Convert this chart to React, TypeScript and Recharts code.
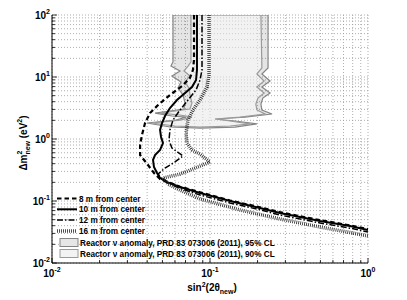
import React from "react";
import { ScatterChart, Scatter, XAxis, YAxis, CartesianGrid, Legend } from "recharts";

const FONT = "'Liberation Sans', Arial, Helvetica, sans-serif";

// log axes: decades + minor steps
const xDecades = [0.01, 0.1, 1];
const yDecades = [0.01, 0.1, 1, 10, 100];
const minorSteps = [1, 2, 3, 4, 5, 6, 7, 8, 9];

// sensitivity contours, [sin^2(2theta_new), dm^2_new (eV^2)]
const curve8m = [
  [0.0792, 100], [0.0792, 18.8], [0.078, 13.0], [0.0747, 9.64], [0.0665, 7.16], [0.0558, 5.13],
  [0.0469, 3.53], [0.0417, 2.62], [0.0388, 1.81], [0.0371, 1.16], [0.0361, 0.8], [0.0361, 0.552],
  [0.0405, 0.381], [0.0442, 0.283], [0.0483, 0.226], [0.0535, 0.205], [0.0646, 0.17], [0.0865, 0.138],
  [0.134, 0.102], [0.207, 0.079], [0.277, 0.066], [0.497, 0.049], [0.769, 0.0405], [1.0, 0.0353],
];
const curve10m = [
  [0.0827, 100], [0.0827, 13.0], [0.0816, 8.95], [0.0769, 6.9], [0.0695, 5.52], [0.0618, 4.26],
  [0.0558, 3.16], [0.0519, 2.35], [0.0497, 1.81], [0.0483, 1.4], [0.049, 1.08], [0.0504, 0.861],
  [0.0483, 0.665], [0.0449, 0.552], [0.0436, 0.459], [0.0442, 0.353], [0.0462, 0.283], [0.0483, 0.235],
  [0.0535, 0.202], [0.0646, 0.168], [0.0865, 0.135], [0.134, 0.1], [0.207, 0.0771], [0.277, 0.064],
  [0.497, 0.0476], [0.769, 0.0395], [1.0, 0.034],
];
const curve12m = [
  [0.089, 100], [0.089, 13.0], [0.0865, 8.95], [0.0816, 6.17], [0.0726, 4.26], [0.0646, 2.94],
  [0.0583, 2.02], [0.0558, 1.4], [0.055, 0.964], [0.0574, 0.716], [0.0675, 0.532], [0.06, 0.426],
  [0.0519, 0.34], [0.0469, 0.272], [0.0497, 0.226], [0.0542, 0.195], [0.0646, 0.16], [0.0865, 0.125],
  [0.134, 0.0929], [0.207, 0.0725], [0.277, 0.0594], [0.497, 0.0442], [0.769, 0.0365], [1.0, 0.0316],
];
const curve16m = [
  [0.0986, 100], [0.0986, 10.8], [0.0957, 6.9], [0.0865, 4.26], [0.078, 2.94], [0.0726, 2.02],
  [0.0705, 1.25], [0.0715, 0.861], [0.0769, 0.665], [0.0865, 0.573], [0.1, 0.426], [0.0804, 0.34],
  [0.0646, 0.272], [0.0504, 0.235], [0.0542, 0.188], [0.0646, 0.15], [0.0865, 0.108], [0.155, 0.0716],
  [0.277, 0.0513], [0.497, 0.0381], [0.769, 0.031], [1.0, 0.0273],
];

// reactor anomaly allowed regions (closed outlines)
const reactor95 = [
  [0.0583, 100], [0.0583, 17.5], [0.0566, 15.0], [0.0646, 12.5], [0.0574, 10.4], [0.0655, 8.3],
  [0.0627, 6.65], [0.0675, 5.13], [0.0695, 3.81], [0.0684, 3.05], [0.0558, 2.83], [0.0449, 2.62],
  [0.0574, 2.35], [0.0705, 2.26], [0.0609, 2.02], [0.0399, 1.81], [0.0558, 1.56], [0.0865, 1.5],
  [0.144, 1.56], [0.198, 1.75], [0.144, 1.95], [0.1076, 2.1], [0.1666, 2.26], [0.247, 2.53],
  [0.213, 2.94], [0.21, 3.67], [0.216, 4.58], [0.24, 5.52], [0.213, 6.9], [0.24, 8.62],
  [0.213, 11.2], [0.233, 14.0], [0.233, 100],
];
const reactor90 = [
  [0.0758, 100], [0.0758, 17.5], [0.0726, 15.0], [0.0684, 12.5], [0.0747, 10.4], [0.0695, 8.3],
  [0.0736, 6.65], [0.0747, 5.13], [0.0769, 3.81], [0.0747, 3.05], [0.06, 2.83], [0.0483, 2.62],
  [0.0646, 2.44], [0.0769, 2.26], [0.0646, 2.02], [0.043, 1.81], [0.06, 1.62], [0.0865, 1.56],
  [0.134, 1.62], [0.179, 1.75], [0.134, 1.95], [0.1076, 2.1], [0.155, 2.26], [0.223, 2.53],
  [0.198, 2.94], [0.195, 3.67], [0.201, 4.58], [0.22, 5.52], [0.198, 6.9], [0.22, 8.62],
  [0.198, 11.2], [0.213, 14.0], [0.21, 100],
];

const curveNames = ["8 m from center", "10 m from center", "12 m from center", "16 m from center"];
const regionNames = [
  "Reactor \u03bd anomaly, PRD 83 073006 (2011), 95% CL",
  "Reactor \u03bd anomaly, PRD 83 073006 (2011), 90% CL",
];

const curveStyles = [
  { stroke: "#000", strokeWidth: 2.2, strokeDasharray: "4.5 3" },
  { stroke: "#000", strokeWidth: 2 },
  { stroke: "#000", strokeWidth: 1.5, strokeDasharray: "6 2 1.5 2" },
  { stroke: "#222", strokeWidth: 3.5, strokeDasharray: "0.8 1.2" },
];
const regionStyles = [
  { fill: "#000", fillOpacity: 0.1, stroke: "#858585", legendFill: "#e6e6e6" },
  { fill: "#fff", fillOpacity: 0.5, stroke: "#9a9a9a", legendFill: "#f3f3f3" },
];

const makeTicks = (decades: number[]) =>
  decades.flatMap((d, i) =>
    i === decades.length - 1 ? [d] : minorSteps.map((s) => +(d * s).toPrecision(3))
  );
const xTicks = makeTicks(xDecades);
const yTicks = makeTicks(yDecades);

const toPoints = (arr: number[][]) => arr.map(([x, y]) => ({ x, y }));

const decadeExp = (v: number) => {
  const l = Math.log10(v);
  return Math.abs(l - Math.round(l)) < 1e-6 ? Math.round(l) : null;
};

const X_MARGIN = 14;
const Y_MARGIN = 2;
const MAJOR = 5;
const MINOR = 3;

function Pow10({ x, y, exp, anchor }: any) {
  return (
    <text x={x} y={y} textAnchor={anchor} fontFamily={FONT} fontSize={10} fontWeight="bold" fill="#000">
      10<tspan dy={-5} fontSize={7}>{exp}</tspan>
    </text>
  );
}

function BottomTick(props: any) {
  const { x, y, payload } = props;
  const e = decadeExp(payload.value);
  const base = y - X_MARGIN;
  return (
    <g>
      <line x1={x} x2={x} y1={base} y2={base - (e === null ? MINOR : MAJOR)} stroke="#000" strokeWidth={0.8} />
      {e !== null && <Pow10 x={x} y={y} exp={e} anchor="middle" />}
    </g>
  );
}

function TopTick(props: any) {
  const { x, y, payload } = props;
  const e = decadeExp(payload.value);
  return <line x1={x} x2={x} y1={y} y2={y + (e === null ? MINOR : MAJOR)} stroke="#000" strokeWidth={0.8} />;
}

function LeftTick(props: any) {
  const { x, y, payload } = props;
  const e = decadeExp(payload.value);
  const base = x + Y_MARGIN;
  return (
    <g>
      <line x1={base} x2={base + (e === null ? MINOR : MAJOR)} y1={y} y2={y} stroke="#000" strokeWidth={0.8} />
      {e !== null && <Pow10 x={x} y={y + 3.5} exp={e} anchor="end" />}
    </g>
  );
}

function RightTick(props: any) {
  const { x, y, payload } = props;
  const e = decadeExp(payload.value);
  return <line x1={x} x2={x - (e === null ? MINOR : MAJOR)} y1={y} y2={y} stroke="#000" strokeWidth={0.8} />;
}

const polygonLine = (style: any) => (props: any) => {
  const pts = props.points || [];
  const d = pts.map((p: any, i: number) => `${i ? "L" : "M"}${p.x},${p.y}`).join("") + "Z";
  return <path d={d} fill={style.fill} fillOpacity={style.fillOpacity} stroke={style.stroke} strokeWidth={1.2} />;
};

const noDot = () => <g />;

function XLabel(props: any) {
  const vb = props.viewBox || { x: 52, y: 263, width: 316 };
  const cx = vb.x + vb.width / 2 + 2;
  const cy = vb.y + 28;
  return (
    <text x={cx} y={cy} textAnchor="middle" fontFamily={FONT} fontSize={10} fontWeight="bold" fill="#000">
      sin<tspan dy={-4} fontSize={7}>2</tspan>
      <tspan dy={4}>(2θ</tspan>
      <tspan dy={3} fontSize={7}>new</tspan>
      <tspan dy={-3}>)</tspan>
    </text>
  );
}

function YLabel(props: any) {
  const vb = props.viewBox || { x: 0, y: 15, width: 52, height: 248 };
  const cx = vb.x + 27;
  const cy = vb.y + vb.height / 2 + 4;
  return (
    <text
      x={cx}
      y={cy}
      transform={`rotate(-90 ${cx} ${cy})`}
      textAnchor="middle"
      fontFamily={FONT}
      fontSize={10}
      fontWeight="bold"
      fill="#000"
    >
      Δm<tspan dy={-5} fontSize={7}>2</tspan>
      <tspan dx={-4} dy={8} fontSize={7}>new</tspan>
      <tspan dy={-3}> (eV</tspan>
      <tspan dy={-5} fontSize={7}>2</tspan>
      <tspan dy={5}>)</tspan>
    </text>
  );
}

function LegendBox() {
  return (
    <svg width={240} height={68} style={{ display: "block" }}>
      {curveNames.map((name, i) => {
        const cy = 6.5 + i * 10.8;
        return (
          <g key={name}>
            <line x1={5} x2={25} y1={cy} y2={cy} {...curveStyles[i]} />
            <text x={27} y={cy + 3} fontFamily={FONT} fontSize={8.2} fontWeight="bold" fill="#000">
              {name}
            </text>
          </g>
        );
      })}
      {regionNames.map((name, i) => {
        const cy = 50.5 + i * 11;
        return (
          <g key={name}>
            <rect x={8} y={cy - 4} width={18} height={8} fill={regionStyles[i].legendFill} stroke={regionStyles[i].stroke} strokeWidth={1} />
            <text x={28} y={cy + 3} fontFamily={FONT} fontSize={8.2} fontWeight="bold" fill="#000">
              {name}
            </text>
          </g>
        );
      })}
    </svg>
  );
}

export default function App() {
  const curves = [curve8m, curve10m, curve12m, curve16m];
  const regions = [reactor95, reactor90];
  return (
    <div style={{ position: "absolute", left: 0, top: 0, width: 407, height: 300, background: "#fff" }}>
      <ScatterChart width={407} height={300} margin={{ top: 15, right: 39, bottom: 0, left: 0 }}>
        <CartesianGrid stroke="#9a9a9a" strokeDasharray="1 2" strokeWidth={0.8} />
        <XAxis
          dataKey="x"
          type="number"
          scale="log"
          domain={[0.01, 1]}
          allowDataOverflow
          ticks={xTicks}
          interval={0}
          height={37}
          tickSize={0}
          tickMargin={X_MARGIN}
          tickLine={false}
          axisLine={{ stroke: "#000" }}
          tick={BottomTick}
          label={{ content: (p: any) => <XLabel {...p} /> }}
        />
        <XAxis
          xAxisId="top"
          orientation="top"
          dataKey="x"
          type="number"
          scale="log"
          domain={[0.01, 1]}
          allowDataOverflow
          ticks={xTicks}
          interval={0}
          height={0}
          tickSize={0}
          tickMargin={0}
          tickLine={false}
          axisLine={{ stroke: "#000" }}
          tick={TopTick}
        />
        <YAxis
          dataKey="y"
          type="number"
          scale="log"
          domain={[0.01, 100]}
          allowDataOverflow
          ticks={yTicks}
          interval={0}
          width={52}
          tickSize={0}
          tickMargin={Y_MARGIN}
          tickLine={false}
          axisLine={{ stroke: "#000" }}
          tick={LeftTick}
          label={{ content: (p: any) => <YLabel {...p} /> }}
        />
        <YAxis
          yAxisId="right"
          orientation="right"
          dataKey="y"
          type="number"
          scale="log"
          domain={[0.01, 100]}
          allowDataOverflow
          ticks={yTicks}
          interval={0}
          width={0}
          tickSize={0}
          tickMargin={0}
          tickLine={false}
          axisLine={{ stroke: "#000" }}
          tick={RightTick}
        />
        {regions.map((r, i) => (
          <Scatter
            key={regionNames[i]}
            name={regionNames[i]}
            data={toPoints(r)}
            shape={noDot}
            line={polygonLine(regionStyles[i])}
            legendType="none"
            isAnimationActive={false}
          />
        ))}
        {curves.map((c, i) => (
          <Scatter
            key={curveNames[i]}
            name={curveNames[i]}
            data={toPoints(c)}
            shape={noDot}
            line={curveStyles[i]}
            legendType="none"
            isAnimationActive={false}
          />
        ))}
        <Legend
          layout="horizontal"
          verticalAlign="middle"
          align="center"
          wrapperStyle={{ left: 52, top: 192, width: 240, height: 68 }}
          content={() => <LegendBox />}
        />
      </ScatterChart>
    </div>
  );
}
